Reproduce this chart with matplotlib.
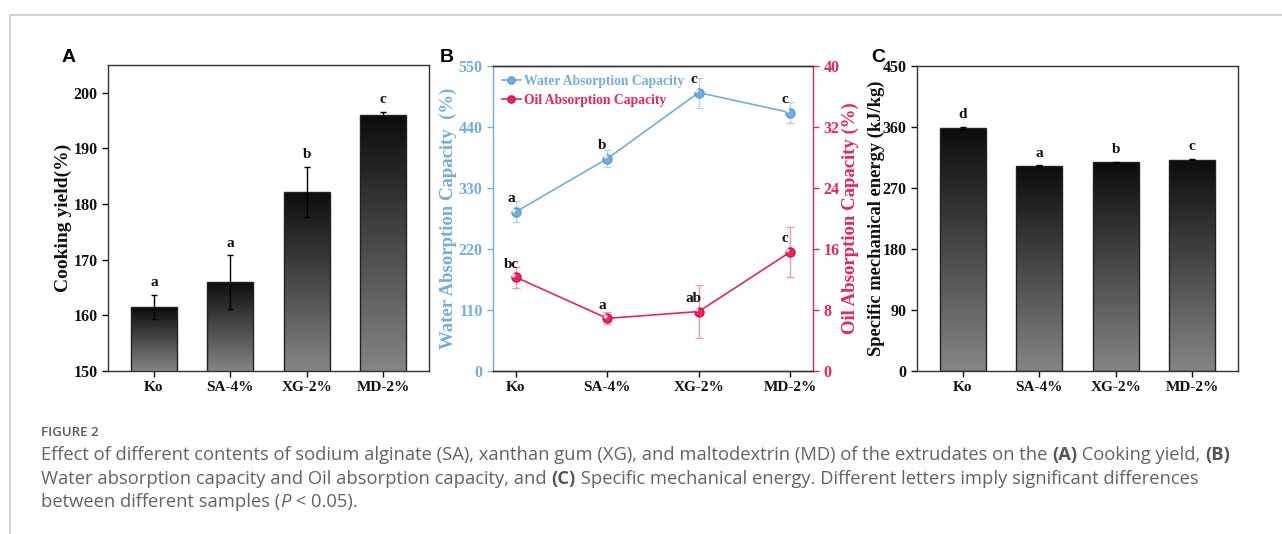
import numpy as np
import matplotlib
matplotlib.use('Agg')
import matplotlib.pyplot as plt
from matplotlib.colors import LinearSegmentedColormap
from matplotlib.lines import Line2D

plt.rcParams['font.family'] = 'serif'
plt.rcParams['font.serif'] = ['Liberation Serif', 'DejaVu Serif']
plt.rcParams['font.weight'] = 'bold'

# data
samples = ['Ko', 'SA-4%', 'XG-2%', 'MD-2%']

yield_mean = [161.5, 166.0, 182.2, 196.0]
yield_err = [2.2, 4.8, 4.5, 0.6]
yield_letters = ['a', 'a', 'b', 'c']

wac_mean = [287, 383, 502, 466]
wac_err = [19, 15, 27, 19]
wac_letters = ['a', 'b', 'c', 'c']

oac_mean = [12.3, 6.9, 7.8, 15.6]
oac_err = [1.4, 0.8, 3.5, 3.3]
oac_letters = ['bc', 'a', 'ab', 'c']

sme_mean = [358.5, 303, 308, 312]
sme_err = [1.5, 0.8, 1.0, 1.2]
sme_letters = ['d', 'a', 'b', 'c']

W, H = 1282, 534
BLUE = '#74aedb'
RED = '#e8265a'
TXT = '#111111'

fig = plt.figure(figsize=(W / 100, H / 100), dpi=100)


def px_axes(x0, y0, x1, y1):
    return fig.add_axes([x0 / W, 1 - y1 / H, (x1 - x0) / W, (y1 - y0) / H])


grad = LinearSegmentedColormap.from_list('g', ['#858585', '#0c0c0c'])


def grad_bars(ax, mean, err, letters):
    x = np.arange(len(mean))
    bars = ax.bar(x, mean, width=0.6, color='none', edgecolor='#222222', lw=1.0, zorder=3)
    ylo = ax.get_ylim()[0]
    g = np.linspace(0, 1, 256).reshape(-1, 1)
    for b in bars:
        x0, w, h = b.get_x(), b.get_width(), b.get_height()
        im = ax.imshow(g, cmap=grad, origin='lower', aspect='auto',
                       extent=[x0, x0 + w, ylo, h], zorder=2)
        im.set_clip_path(b)
    ax.errorbar(x, mean, yerr=err, fmt='none', ecolor='black', elinewidth=1.0,
                capsize=2.5, capthick=1.0, zorder=4)
    for xi, m, e, l in zip(x, mean, err, letters):
        ax.annotate(l, (xi, m + e), xytext=(0, 4), textcoords='offset points',
                    ha='center', va='bottom', fontsize=11, fontweight='bold', color=TXT)
    ax.set_xticks(x)
    ax.set_xticklabels(samples)
    ax.set_xlim(-0.6, 3.6)


def style(ax):
    for s in ax.spines.values():
        s.set_linewidth(1.0)
        s.set_color('#333333')
    ax.tick_params(direction='out', length=4, width=1.0, colors=TXT)
    ax.tick_params(axis='y', labelsize=11.5)
    ax.tick_params(axis='x', labelsize=11)
    for t in ax.get_xticklabels() + ax.get_yticklabels():
        t.set_fontweight('bold')


def place_ylabel(ax, xfrac):
    ax.yaxis.label.set_va('center')
    ax.yaxis.set_label_coords(xfrac, 0.5)


# Panel A
axA = px_axes(108, 65, 429, 371)
axA.set_ylim(150, 205)
axA.set_yticks([150, 160, 170, 180, 190, 200])
grad_bars(axA, yield_mean, yield_err, yield_letters)
axA.set_ylabel('Cooking yield(%)', fontsize=14, fontweight='bold', color=TXT)
place_ylabel(axA, -0.138)
style(axA)

# Panel B
axB = px_axes(493, 66, 813, 371)
axB2 = axB.twinx()
x = np.arange(len(samples))
wac = axB.errorbar(x, wac_mean, yerr=wac_err, color=BLUE, lw=1.2, marker='o', ms=6.5,
                   mec='#5b9dcf', mfc=BLUE, ecolor='#b5d3ea', elinewidth=1.0, capsize=3,
                   label='Water Absorption Capacity', zorder=3)
oac = axB2.errorbar(x, oac_mean, yerr=oac_err, color=RED, lw=1.2, marker='o', ms=6.5,
                    mec='#d0144a', mfc=RED, ecolor='#f09ab3', elinewidth=1.0, capsize=3,
                    label='Oil Absorption Capacity', zorder=3)
# small highlight on the markers
axB.plot(x - 0.03, np.array(wac_mean) + 4, 'o', ms=2, color='white', alpha=0.7, zorder=4)
axB2.plot(x - 0.03, np.array(oac_mean) + 0.3, 'o', ms=2, color='white', alpha=0.7, zorder=4)
for xi, m, l in zip(x, wac_mean, wac_letters):
    axB.annotate(l, (xi, m), xytext=(-3.5, 9.5), textcoords='offset points',
                 ha='center', va='center', fontsize=11, fontweight='bold', color=TXT)
for xi, m, l in zip(x, oac_mean, oac_letters):
    axB2.annotate(l, (xi, m), xytext=(-3.5, 9.5), textcoords='offset points',
                  ha='center', va='center', fontsize=11, fontweight='bold', color=TXT)
axB.set_xlim(-0.25, 3.25)
axB.set_ylim(0, 550)
axB.set_yticks(np.arange(0, 551, 110))
axB2.set_ylim(0, 40)
axB2.set_yticks(np.arange(0, 41, 8))
axB.set_xticks(x)
axB.set_xticklabels(samples)
style(axB)
style(axB2)
axB.spines['left'].set_color(BLUE)
axB.spines['right'].set_visible(False)
axB2.spines['left'].set_visible(False)
axB2.spines['right'].set_color(RED)
axB.tick_params(axis='y', colors=BLUE)
axB2.tick_params(axis='y', colors=RED)
axB.set_ylabel('Water Absorption Capacity  (%)', fontsize=13.5, fontweight='bold', color=BLUE)
place_ylabel(axB, -0.14)
axB2.set_ylabel('Oil Absorption Capacity (%)', fontsize=13.5, fontweight='bold', color=RED,
                rotation=90)
place_ylabel(axB2, 1.116)
leg = axB2.legend([wac[0], oac[0]], ['Water Absorption Capacity', 'Oil Absorption Capacity'],
                  loc='upper left', frameon=False, handlelength=1.4, markerscale=0.8,
                  handletextpad=0.25, borderaxespad=0.25, labelspacing=0.45,
                  prop={'weight': 'bold', 'size': 9.8})
for t, c in zip(leg.get_texts(), [BLUE, RED]):
    t.set_color(c)

# Panel C
axC = px_axes(917, 66, 1238, 371)
axC.set_ylim(0, 450)
axC.set_yticks(np.arange(0, 451, 90))
grad_bars(axC, sme_mean, sme_err, sme_letters)
axC.set_ylabel('Specific mechanical energy (kJ/kg)', fontsize=13.3, fontweight='bold', color=TXT)
place_ylabel(axC, -0.128)
style(axC)

# panel letters
for lab, xp in [('A', 69), ('B', 447), ('C', 878)]:
    fig.text(xp / W, 1 - 58 / H, lab, fontsize=14, fontweight='bold', family='Liberation Sans',
             ha='center', va='center', color='black')

# frame lines
fig.add_artist(Line2D([10 / W, 1], [1 - 15 / H] * 2, color='#d4d4d4', lw=1.5))
fig.add_artist(Line2D([10 / W] * 2, [1 - 15 / H, 0], color='#d4d4d4', lw=1.5))

# caption
renderer = fig.canvas.get_renderer()
CAP = 'Open Sans'


def text_width(s, **kw):
    a = fig.text(0, 0, '|' + s + '|', **kw)
    b = fig.text(0, 0, '||', **kw)
    w = a.get_window_extent(renderer).width - b.get_window_extent(renderer).width
    a.remove()
    b.remove()
    return w


def runs(xpx, ypx, parts, size=13.2):
    for s, kw in parts:
        opts = dict(family=CAP, fontsize=size, color='#636363', va='center', ha='left',
                    fontweight='normal')
        opts.update(kw)
        fig.text(xpx / W, 1 - ypx / H, s, **opts)
        xpx += text_width(s, **opts)


B = {'fontweight': 'bold', 'color': '#555555'}
N = {}
fig.text(41 / W, 1 - 432 / H, 'FIGURE 2', family=CAP, fontsize=9.5, color='#5a5a5a',
         va='center', ha='left', fontweight='semibold')
runs(41, 455, [('Effect of different contents of sodium alginate (SA), xanthan gum (XG), and '
                'maltodextrin (MD) of the extrudates on the ', N), ('(A)', B),
               (' Cooking yield, ', N), ('(B)', B)])
runs(41, 479, [('Water absorption capacity and Oil absorption capacity, and ', N), ('(C)', B),
               (' Specific mechanical energy. Different letters imply significant differences', N)])
runs(41, 502, [('between different samples (', N), ('P', {'fontstyle': 'italic'}),
               (' < 0.05).', N)])

fig.savefig('out.png', dpi=100)
